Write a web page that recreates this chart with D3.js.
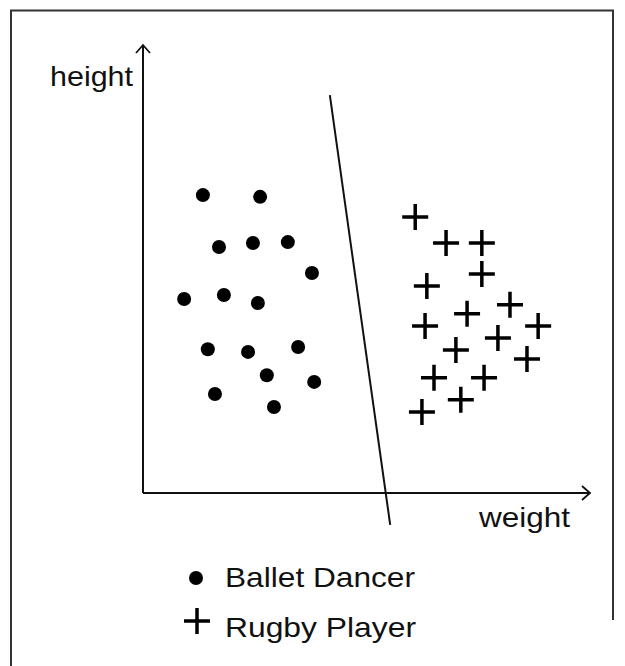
<!DOCTYPE html>
<html><head><meta charset="utf-8">
<script src="https://cdn.jsdelivr.net/npm/d3@7"></script>
<style>html,body{margin:0;padding:0;background:#fff;}svg{display:block;}</style>
</head><body>
<svg id="c" width="625" height="666"></svg>
<script>
// Data (weight, height on a 0-100 scale)
const balletWeight = [13.4, 26.2, 17.0, 24.6, 32.4, 37.8, 9.2, 18.1, 25.7, 14.5, 23.5, 34.7, 27.7, 38.3, 16.1, 29.3];
const balletHeight = [66.5, 66.1, 54.9, 55.8, 56.0, 49.1, 43.3, 44.2, 42.4, 32.1, 31.5, 32.6, 26.3, 24.8, 22.1, 19.2];
const rugbyWeight = [60.9, 67.8, 75.8, 75.8, 63.5, 82.1, 72.5, 63.1, 88.4, 79.4, 70.0, 85.9, 65.1, 76.3, 71.1, 62.4];
const rugbyHeight = [61.6, 55.8, 55.8, 48.9, 46.2, 42.0, 40.0, 37.3, 37.3, 34.6, 31.9, 29.9, 25.7, 25.7, 20.8, 18.1];
const boundaryWeight = [41.8, 55.3];
const boundaryHeight = [88.8, -7.1];
const axisLabels = ["weight", "height"];
const legendLabels = ["Ballet Dancer", "Rugby Player"];

const svg = d3.select("#c");
const x = d3.scaleLinear().domain([0, 100]).range([143, 590]);
const y = d3.scaleLinear().domain([0, 100]).range([493, 45]);

// frame
svg.append("path").attr("d", "M11,666 V10.5 H613 V620")
  .attr("fill", "none").attr("stroke", "#333").attr("stroke-width", 2);

const ink = "#111";
// axes
svg.append("line").attr("x1", x(0)).attr("y1", y(0)).attr("x2", x(100)).attr("y2", y(0))
  .attr("stroke", ink).attr("stroke-width", 2);
svg.append("line").attr("x1", x(0)).attr("y1", y(0)).attr("x2", x(0)).attr("y2", y(100))
  .attr("stroke", ink).attr("stroke-width", 2);
// arrowheads
svg.append("path").attr("d", `M${x(100)-8},${y(0)-7} L${x(100)},${y(0)} L${x(100)-8},${y(0)+7}`)
  .attr("fill", "none").attr("stroke", ink).attr("stroke-width", 1.8);
svg.append("path").attr("d", `M${x(0)-7},${y(100)+8} L${x(0)},${y(100)} L${x(0)+7},${y(100)+8}`)
  .attr("fill", "none").attr("stroke", ink).attr("stroke-width", 1.8);

// axis labels
const fontFam = "'Liberation Sans', Arial, sans-serif";
const fs = 28;
svg.append("text").attr("x", 479).attr("y", 527).text(axisLabels[0])
  .attr("font-family", fontFam).attr("font-size", fs).attr("fill", ink)
  .attr("textLength", 91).attr("lengthAdjust", "spacingAndGlyphs");
svg.append("text").attr("x", 50).attr("y", 86).text(axisLabels[1])
  .attr("font-family", fontFam).attr("font-size", fs).attr("fill", ink)
  .attr("textLength", 83).attr("lengthAdjust", "spacingAndGlyphs");

// boundary line
svg.append("line")
  .attr("x1", x(boundaryWeight[0])).attr("y1", y(boundaryHeight[0]))
  .attr("x2", x(boundaryWeight[1])).attr("y2", y(boundaryHeight[1]))
  .attr("stroke", ink).attr("stroke-width", 2);

// ballet dancers
const ballet = balletWeight.map((w, i) => ({w, h: balletHeight[i]}));
svg.append("g").selectAll("circle").data(ballet).join("circle")
  .attr("cx", d => x(d.w)).attr("cy", d => y(d.h)).attr("r", 7).attr("fill", "#000");

// rugby players
const rugby = rugbyWeight.map((w, i) => ({w, h: rugbyHeight[i]}));
const arm = 13;
svg.append("g").selectAll("path").data(rugby).join("path")
  .attr("d", d => `M${x(d.w)-arm},${y(d.h)} H${x(d.w)+arm} M${x(d.w)},${y(d.h)-arm} V${y(d.h)+arm}`)
  .attr("stroke", "#000").attr("stroke-width", 3.5).attr("fill", "none");

// legend
svg.append("circle").attr("cx", 196).attr("cy", 578).attr("r", 7).attr("fill", "#000");
svg.append("path").attr("d", `M${197-arm},621 H${197+arm} M197,${621-arm} V${621+arm}`)
  .attr("stroke", "#000").attr("stroke-width", 3.5);
svg.append("text").attr("x", 225).attr("y", 587).text(legendLabels[0])
  .attr("font-family", fontFam).attr("font-size", fs).attr("fill", ink)
  .attr("textLength", 190).attr("lengthAdjust", "spacingAndGlyphs");
svg.append("text").attr("x", 225).attr("y", 637).text(legendLabels[1])
  .attr("font-family", fontFam).attr("font-size", fs).attr("fill", ink)
  .attr("textLength", 191).attr("lengthAdjust", "spacingAndGlyphs");
</script>
</body></html>
